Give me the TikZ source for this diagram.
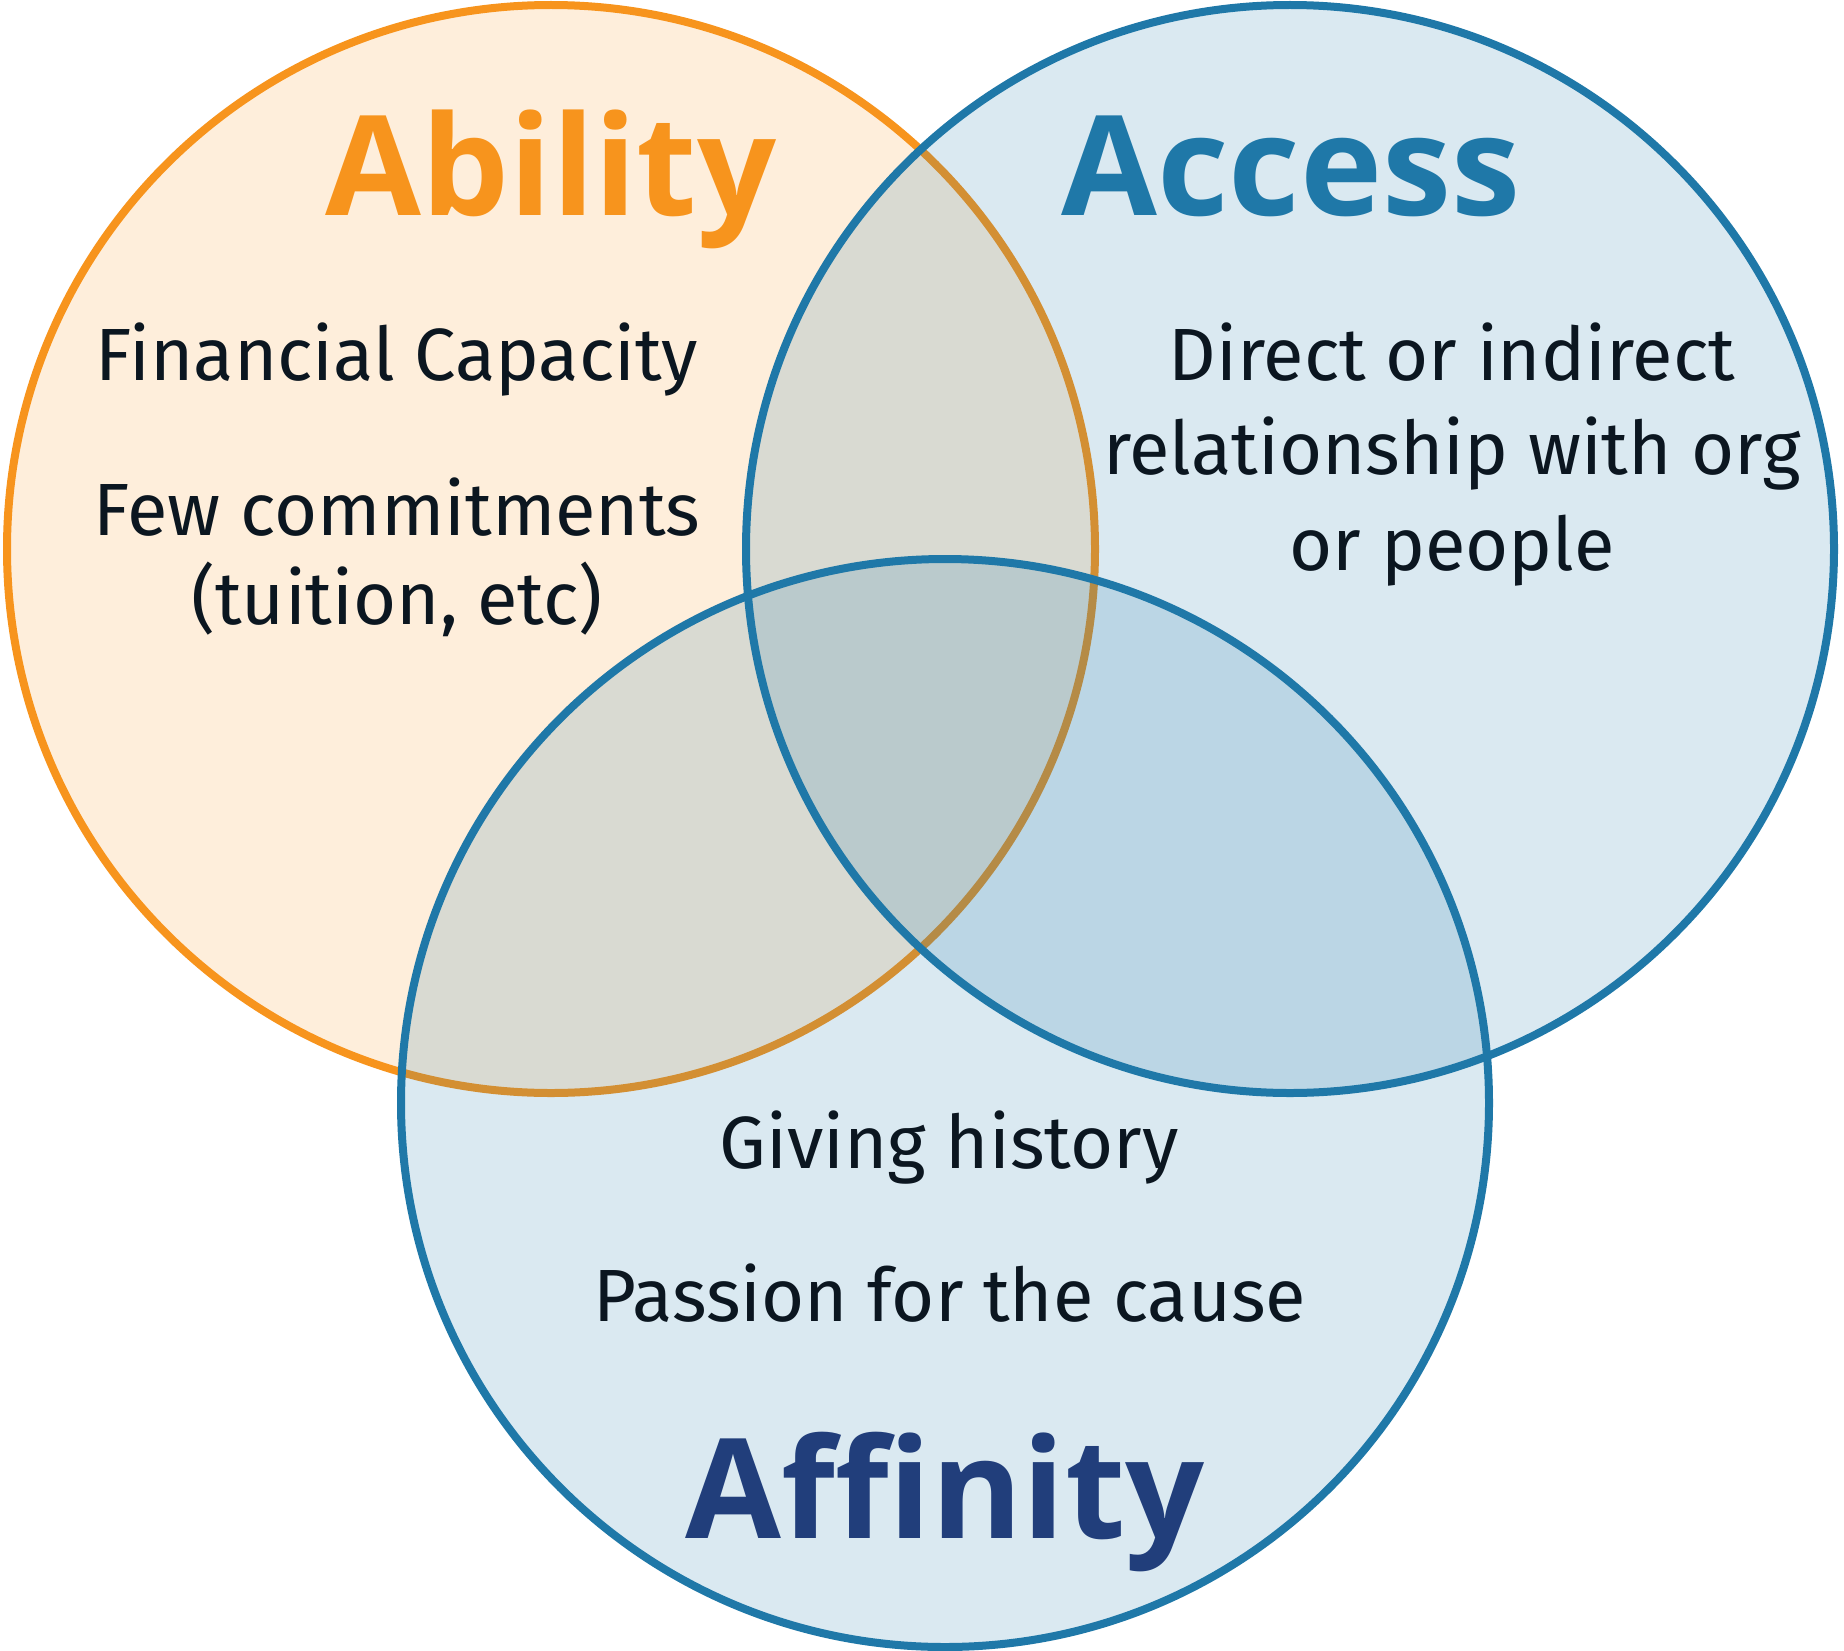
\documentclass[tikz,border=0pt]{standalone}
\usepackage{fontspec}
\setmainfont{Fira Sans}
\newfontfamily\headfont{Open Sans}
\definecolor{abor}{HTML}{F7941D}
\definecolor{acbl}{HTML}{1F78A8}
\definecolor{afnv}{HTML}{213E7B}
\definecolor{txt}{HTML}{0B1620}
\begin{document}
\begin{tikzpicture}[x=1pt,y=-1pt,
  ring/.style={line width=8pt},
  head/.style={anchor=base,inner sep=0pt,font=\headfont\bfseries\fontsize{139}{160}\selectfont},
  body/.style={anchor=base,inner sep=0pt,text=txt,font=\fontsize{74}{90}\selectfont}]
\useasboundingbox (0,0) rectangle (1844,1651);
% circles
\coordinate (cab) at (551,549);
\coordinate (cac) at (1290,549);
\coordinate (caf) at (945,1103);
\fill[abor,fill opacity=0.16] (cab) circle[radius=544];
\draw[ring,abor] (cab) circle[radius=544];
\fill[acbl,fill opacity=0.165] (cac) circle[radius=544];
\draw[ring,acbl] (cac) circle[radius=544];
\fill[acbl,fill opacity=0.165] (caf) circle[radius=544];
\draw[ring,acbl] (caf) circle[radius=544];
% headings
\node[head,text=abor] (hab) at (551,215) {Ability};
\node[head,text=acbl] (hac) at (1291,215) {Access};
\node[head,text=afnv] (haf) at (945,1538) {Affinity};
% body
\node[body] (t1) at (397,380) {Financial Capacity};
\node[body] (t2) at (397,535) {Few commitments};
\node[body] (t3) at (397,624) {(tuition, etc)};
\node[body] (t4) at (1452,380) {Direct or indirect};
\node[body] (t5) at (1452,474) {relationship with org};
\node[body] (t6) at (1452,570) {or people};
\node[body] (t7) at (949,1168) {Giving history};
\node[body] (t8) at (950,1321) {Passion for the cause};
\end{tikzpicture}
\end{document}
